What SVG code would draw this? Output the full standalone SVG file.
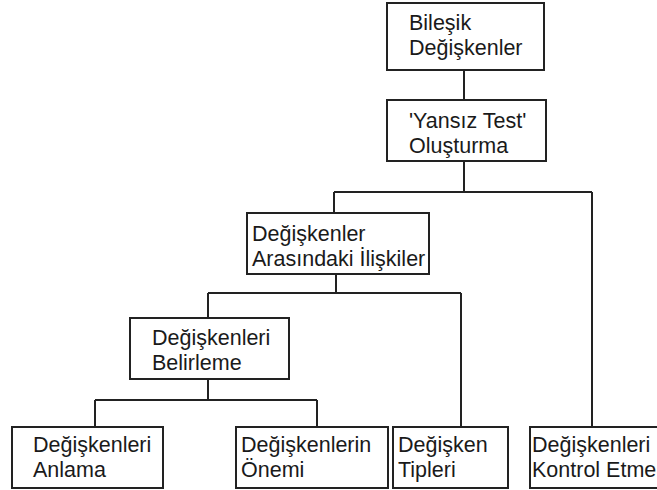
<svg xmlns="http://www.w3.org/2000/svg" width="657" height="490" viewBox="0 0 657 490">
<style>
.box{fill:#ffffff;stroke:#222222;stroke-width:2}
.ln{fill:none;stroke:#222222;stroke-width:2}
text{font-family:"Liberation Sans",Arial,sans-serif;font-size:21.5px;fill:#1a1a1a}
</style>
<rect width="657" height="490" fill="#ffffff"/>
<g id="connectors" class="ln">
<line x1="464" y1="70" x2="464" y2="100"/>
<line x1="464" y1="161" x2="464" y2="192"/>
<line x1="334" y1="192" x2="592" y2="192"/>
<line x1="334" y1="192" x2="334" y2="213"/>
<line x1="592" y1="192" x2="592" y2="427"/>
<line x1="336" y1="274" x2="336" y2="293"/>
<line x1="208" y1="293" x2="461" y2="293"/>
<line x1="208" y1="293" x2="208" y2="318"/>
<line x1="461" y1="293" x2="461" y2="427"/>
<line x1="208" y1="379" x2="208" y2="400"/>
<line x1="95" y1="400" x2="317" y2="400"/>
<line x1="95" y1="400" x2="95" y2="427"/>
<line x1="317" y1="400" x2="317" y2="427"/>
</g>
<g id="bilesik">
<rect class="box" x="387" y="3" width="157" height="67"/>
<text x="409" y="30">Bileşik</text>
<text x="409" y="55">Değişkenler</text>
</g>
<g id="yansiz">
<rect class="box" x="387" y="100" width="159" height="61"/>
<text x="409" y="128">'Yansız Test'</text>
<text x="409" y="153">Oluşturma</text>
</g>
<g id="iliskiler">
<rect class="box" x="247" y="213" width="182" height="61"/>
<text x="252" y="241">Değişkenler</text>
<text x="252" y="266">Arasındaki İlişkiler</text>
</g>
<g id="belirleme">
<rect class="box" x="130" y="318" width="159" height="61"/>
<text x="152" y="345">Değişkenleri</text>
<text x="152" y="370">Belirleme</text>
</g>
<g id="anlama">
<rect class="box" x="12" y="427" width="151" height="61"/>
<text x="33" y="452">Değişkenleri</text>
<text x="33" y="477">Anlama</text>
</g>
<g id="onemi">
<rect class="box" x="236" y="427" width="152" height="61"/>
<text x="241" y="452">Değişkenlerin</text>
<text x="241" y="477">Önemi</text>
</g>
<g id="tipleri">
<rect class="box" x="393" y="427" width="115" height="61"/>
<text x="398" y="452">Değişken</text>
<text x="398" y="477">Tipleri</text>
</g>
<g id="kontrol">
<rect class="box" x="530" y="427" width="170" height="61"/>
<text x="532" y="452">Değişkenleri</text>
<text x="532" y="477">Kontrol Etme</text>
</g>
</svg>
